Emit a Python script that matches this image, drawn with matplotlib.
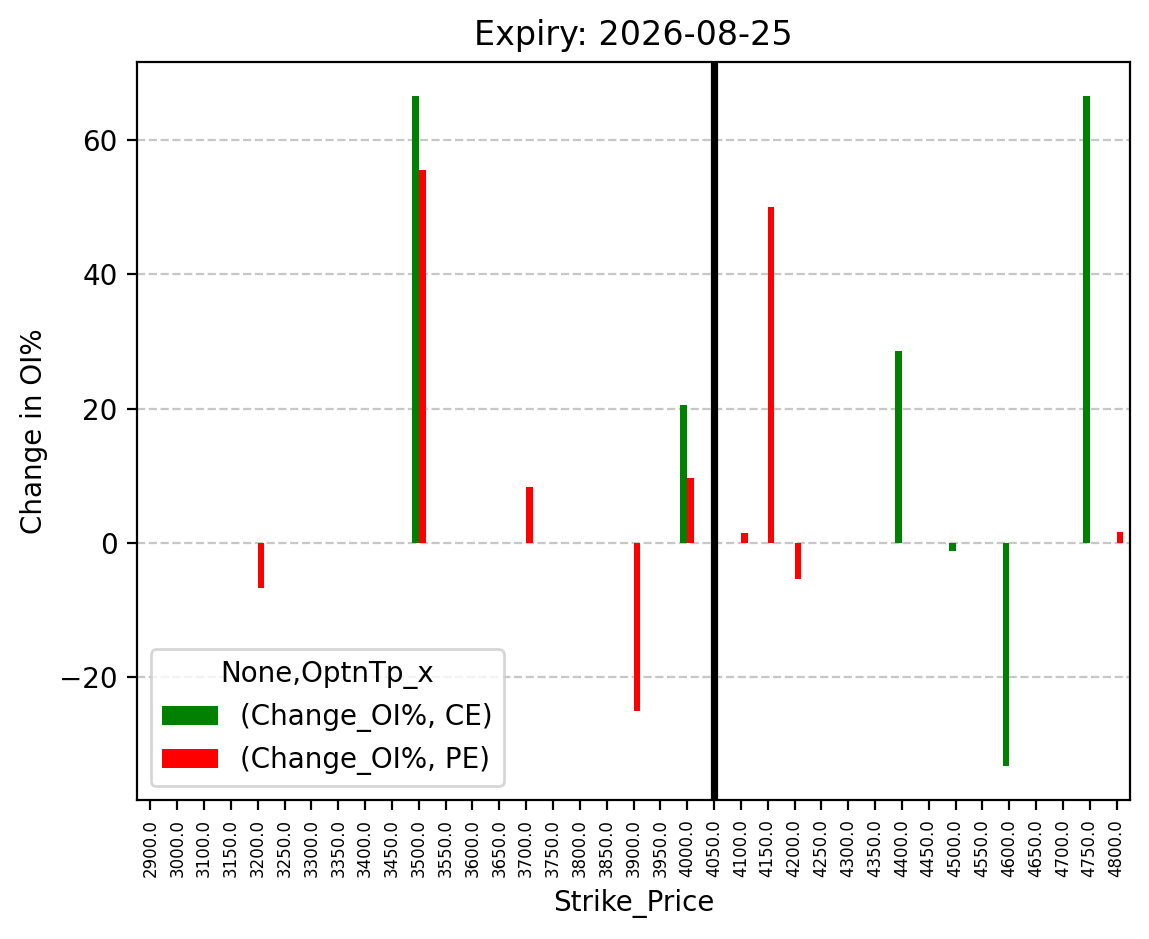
import numpy as np
import matplotlib
matplotlib.use("Agg")
import matplotlib.pyplot as plt

# strike prices (categories) and change in OI% per option type
strikes = [2900.0, 3000.0] + [3100.0 + 50.0 * i for i in range(35)]
nan = np.nan
ce_vals = {3500.0: 66.67, 4000.0: 20.51, 4400.0: 28.57, 4500.0: -1.2,
           4600.0: -33.33, 4750.0: 66.67}
pe_vals = {3200.0: -6.67, 3500.0: 55.56, 3700.0: 8.33, 3900.0: -25.0,
           4000.0: 9.68, 4100.0: 1.5, 4150.0: 50.0, 4200.0: -5.45,
           4800.0: 1.64}
ce = [ce_vals.get(s, nan) for s in strikes]
pe = [pe_vals.get(s, nan) for s in strikes]
tick_labels = [f"{s:.1f}" for s in strikes]
spot_strike = 4050.0
title = "Expiry: 2026-08-25"

fig = plt.figure(figsize=(1149 / 200, 939 / 200), dpi=200)
ax = fig.add_axes([137 / 1149, 1 - 800 / 939, (1130 - 137) / 1149, (800 - 62) / 939])

x = np.arange(len(strikes))
w = 0.25
ax.bar(x - w / 2, ce, width=w, color="green", label="(Change_OI%, CE)")
ax.bar(x + w / 2, pe, width=w, color="red", label="(Change_OI%, PE)")

ax.set_xlim(-0.5, len(strikes) - 0.5)
ax.set_xticks(x)
ax.set_xticklabels(tick_labels, rotation=90, fontsize=6)

ax.axvline(strikes.index(spot_strike), color="black", linewidth=2.6)
ax.grid(axis="y", linestyle="--", alpha=0.7)
ax.set_axisbelow(True)

ax.set_title(title)
ax.set_xlabel("Strike_Price")
ax.set_ylabel("Change in OI%")
ax.legend(title="None,OptnTp_x", loc="lower left")

fig.savefig("out.png", dpi=200)
